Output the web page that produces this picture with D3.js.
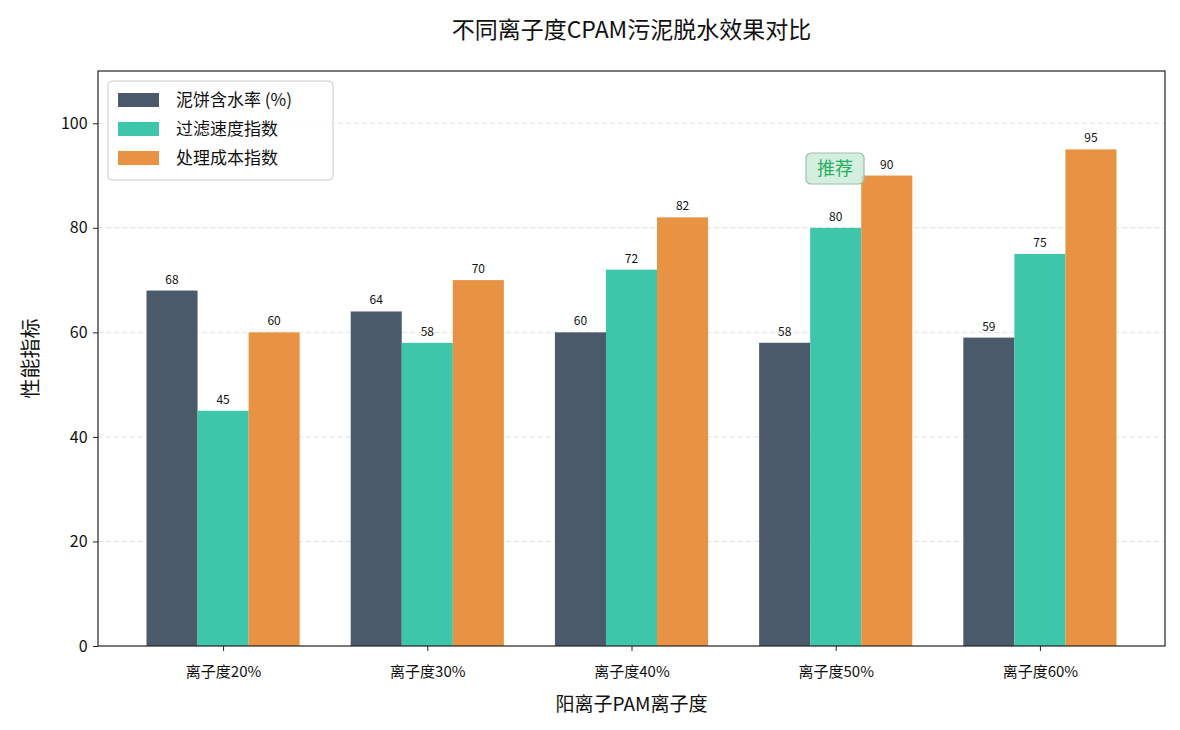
<!DOCTYPE html>
<html><head><meta charset="utf-8">
<script src="https://cdn.jsdelivr.net/npm/d3@7"></script>
<style>body{margin:0;background:#fff;} text{font-family:"Noto Sans CJK SC","DejaVu Sans",sans-serif;}</style>
</head><body>
<svg id="c" width="1180" height="730"></svg>
<script>
const categories = ["离子度20%","离子度30%","离子度40%","离子度50%","离子度60%"];
const seriesNames = ["泥饼含水率 (%)","过滤速度指数","处理成本指数"];
const moisture = [68,64,60,58,59];
const filterSpeed = [45,58,72,80,75];
const cost = [60,70,82,90,95];
const yTicks = [0,20,40,60,80,100];
const colors = ["#4a5a6a","#3dc6aa","#e89244"];
const series = [moisture, filterSpeed, cost];

const svg = d3.select("#c");
const L=98,R=1165,T=71,B=646;
const x = d3.scaleLinear().domain([-0.6125,4.6125]).range([L,R]);
const y = d3.scaleLinear().domain([0,110]).range([B,T]);
const bw = 0.25;

// grid
svg.append("g").selectAll("line").data(yTicks.slice(1)).join("line")
  .attr("x1",L).attr("x2",R).attr("y1",d=>y(d)).attr("y2",d=>y(d))
  .attr("stroke","#cccccc").attr("stroke-opacity",0.6).attr("stroke-dasharray","5,3").attr("stroke-width",1);

// bars
series.forEach((vals,si)=>{
  const g = svg.append("g");
  g.selectAll("rect").data(vals).join("rect")
    .attr("x",(d,i)=>x(i+(si-1)*bw-bw/2))
    .attr("width",x(bw)-x(0))
    .attr("y",d=>y(d)).attr("height",d=>B-y(d))
    .attr("fill",colors[si]);
  g.selectAll("text").data(vals).join("text")
    .attr("x",(d,i)=>x(i+(si-1)*bw))
    .attr("y",d=>y(d)-7)
    .attr("text-anchor","middle").attr("font-size",12).attr("fill","#111")
    .text(d=>d);
});

// axes
const xa = svg.append("g").attr("transform",`translate(0,${B})`)
  .call(d3.axisBottom(x).tickValues(d3.range(categories.length)).tickFormat(i=>categories[i]).tickSize(5).tickSizeOuter(0));
xa.select(".domain").remove();
xa.selectAll("text").attr("font-size",15).attr("fill","#111").attr("dy","1.5em");
xa.selectAll("line").attr("stroke","#222");
const ya = svg.append("g").attr("transform",`translate(${L},0)`)
  .call(d3.axisLeft(y).tickValues(yTicks).tickSize(5).tickSizeOuter(0));
ya.select(".domain").remove();
ya.selectAll("text").attr("font-size",16).attr("fill","#111").attr("dx","-0.15em");
ya.selectAll("line").attr("stroke","#222");

svg.append("rect").attr("x",L).attr("y",T).attr("width",R-L).attr("height",B-T)
  .attr("fill","none").attr("stroke","#222").attr("stroke-width",1.2);

// titles
svg.append("text").attr("x",(L+R)/2).attr("y",38).attr("text-anchor","middle")
  .attr("font-size",23).attr("fill","#111").text("不同离子度CPAM污泥脱水效果对比");
svg.append("text").attr("x",(L+R)/2).attr("y",711).attr("text-anchor","middle")
  .attr("font-size",19).attr("fill","#111").text("阳离子PAM离子度");
svg.append("text").attr("transform",`translate(38,${(T+B)/2}) rotate(-90)`).attr("text-anchor","middle")
  .attr("font-size",20).attr("fill","#111").text("性能指标");

// annotation
const ag = svg.append("g");
ag.append("rect").attr("x",806).attr("y",153).attr("width",58).attr("height",31).attr("rx",5)
  .attr("fill","#c9ead8").attr("fill-opacity",0.8).attr("stroke","#9bbfa8").attr("stroke-width",1.2);
ag.append("text").attr("x",835).attr("y",175).attr("text-anchor","middle").attr("font-size",18)
  .attr("fill","#27ae60").text("推荐");

// legend
const lg = svg.append("g");
lg.append("rect").attr("x",108).attr("y",81).attr("width",225).attr("height",99).attr("rx",4)
  .attr("fill","#fff").attr("fill-opacity",0.85).attr("stroke","#cccccc");
seriesNames.forEach((n,i)=>{
  lg.append("rect").attr("x",118).attr("y",93+i*29).attr("width",41).attr("height",14).attr("fill",colors[i]);
  lg.append("text").attr("x",176).attr("y",106+i*29).attr("font-size",17).attr("fill","#111").text(n);
});
</script>
</body></html>
